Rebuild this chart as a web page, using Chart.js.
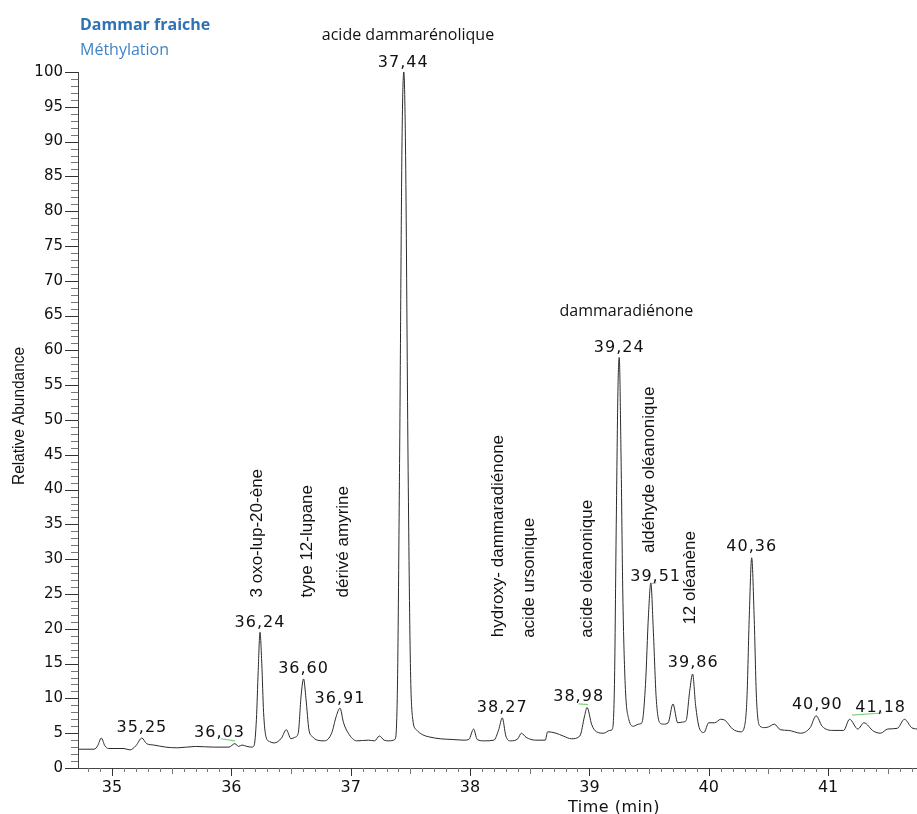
<!DOCTYPE html>
<html>
<head>
<meta charset="utf-8">
<script src="https://cdn.jsdelivr.net/npm/chart.js@4.4.0/dist/chart.umd.min.js"></script>
<style>
  html, body { margin: 0; padding: 0; background: #fff; }
  #wrap { width: 917px; height: 814px; position: relative; }
</style>
</head>
<body>
<div id="wrap"><canvas id="chrom"></canvas></div>
<script>
// chromatogram trace: retention time (min) / relative abundance (%)
const times = [
  34.72, 34.85, 34.88, 34.91, 34.94, 34.97, 35.10, 35.15, 35.20, 35.25, 35.29, 35.35, 35.45, 35.55,
  35.70, 35.85, 35.98, 36.03, 36.06, 36.09, 36.13, 36.17, 36.19, 36.21, 36.225, 36.24, 36.255, 36.27,
  36.29, 36.32, 36.36, 36.42, 36.46, 36.50, 36.53, 36.56, 36.585, 36.605, 36.625, 36.65, 36.68, 36.72,
  36.78, 36.84, 36.88, 36.91, 36.94, 36.98, 37.05, 37.15, 37.20, 37.24, 37.28, 37.32, 37.37, 37.39,
  37.41, 37.43, 37.445, 37.46, 37.48, 37.50, 37.52, 37.55, 37.60, 37.65, 37.75, 37.85, 37.95, 37.99,
  38.03, 38.06, 38.12, 38.20, 38.24, 38.27, 38.30, 38.34, 38.40, 38.43, 38.47, 38.55, 38.63, 38.65,
  38.72, 38.78, 38.85, 38.92, 38.96, 38.98, 39.02, 39.06, 39.12, 39.17, 39.19, 39.21, 39.225, 39.24,
  39.25, 39.265, 39.28, 39.30, 39.33, 39.37, 39.41, 39.44, 39.47, 39.495, 39.515, 39.535, 39.56, 39.59,
  39.62, 39.66, 39.70, 39.74, 39.78, 39.81, 39.84, 39.865, 39.89, 39.92, 39.96, 40.00, 40.05, 40.10,
  40.14, 40.20, 40.27, 40.30, 40.32, 40.34, 40.36, 40.38, 40.40, 40.43, 40.47, 40.50, 40.55, 40.60,
  40.67, 40.77, 40.85, 40.90, 40.95, 41.04, 41.13, 41.18, 41.25, 41.30, 41.38, 41.44, 41.50, 41.58,
  41.64, 41.70, 41.745
];
const abundance = [
  2.7, 2.7, 3.2, 4.3, 3.2, 2.8, 2.8, 2.6, 3.2, 4.3, 3.5, 3.3, 3.0, 2.9,
  3.1, 3.0, 3.0, 3.5, 3.1, 3.3, 3.1, 3.0, 3.2, 7, 14, 19.5, 15, 8,
  4.5, 3.8, 3.6, 4.3, 5.5, 4.2, 4.4, 5.0, 10.5, 12.8, 10, 5.5, 4.5, 4.0,
  3.9, 5.0, 7.5, 8.6, 6.5, 5.0, 3.9, 4.0, 3.9, 4.6, 4.0, 3.9, 4.1, 10,
  45, 90, 100, 88, 45, 15, 7, 5.5, 4.8, 4.5, 4.2, 4.1, 4.0, 4.1,
  5.6, 4.1, 3.9, 4.0, 5.5, 7.2, 4.6, 3.9, 4.2, 5.0, 4.4, 4.0, 4.0, 5.2,
  5.0, 4.6, 4.2, 4.6, 7.5, 8.7, 6.2, 5.2, 5.0, 5.4, 5.5, 12, 35, 55,
  59, 45, 25, 12, 7, 6.0, 6.3, 6.5, 12, 22, 26.6, 20, 10, 6.5,
  6.3, 6.5, 9.2, 6.5, 6.6, 6.8, 11, 13.5, 9, 5.8, 5.1, 6.5, 6.5, 7.0,
  6.8, 5.6, 5.2, 6.0, 10, 22, 30.2, 22, 10, 6.0, 5.8, 5.9, 6.3, 5.5,
  5.4, 5.0, 5.8, 7.5, 6.0, 5.4, 5.4, 7.0, 5.6, 6.5, 5.3, 5.0, 5.6, 5.7,
  7.0, 5.8, 5.6
];

// retention-time labels, anchored at (time, abundance) of the text centre
const peakLabels = ['35,25', '36,03', '36,24', '36,60', '36,91', '37,44', '38,27',
                    '38,98', '39,24', '39,51', '39,86', '40,36', '40,90', '41,18'];
const peakLabelTime = [35.25, 35.90, 36.24, 36.605, 36.91, 37.44, 38.27,
                       38.91, 39.25, 39.555, 39.87, 40.36, 40.91, 41.44];
const peakLabelLevel = [5.8, 5.0, 20.9, 14.2, 10.0, 101.3, 8.6,
                        10.2, 60.3, 27.5, 15.1, 31.8, 9.1, 8.6];

// green integration marks (start/end time and abundance)
const markT1 = [35.91, 38.91, 39.52, 41.20];
const markA1 = [4.2, 9.2, 26.5, 7.6];
const markT2 = [36.03, 38.99, 39.56, 41.45];
const markA2 = [3.9, 9.1, 26.6, 7.9];

// compound names: rotated ones are anchored at their bottom end
const nameText = ['acide dammarénolique', 'dammaradiénone', '3 oxo-lup-20-ène', 'type 12-lupane',
                  'dérivé amyrine', 'hydroxy- dammaradiénone', 'acide ursonique',
                  'acide oléanonique', 'aldéhyde oléanonique', '12 oléanène'];
const nameTime = [37.48, 39.31, 36.215, 36.64, 36.94, 38.24, 38.495, 38.985, 39.50, 39.845];
const nameLevel = [105.2, 65.6, 24.5, 24.5, 24.5, 18.8, 18.7, 18.7, 30.9, 20.6];
const nameVertical = [false, false, true, true, true, true, true, true, true, true];

const xTickValues = [35, 36, 37, 38, 39, 40, 41];
const yMin = 0, yMax = 100, yStep = 5;
const xMin = 34.715, xMax = 41.745;

const decorations = {
  id: 'decorations',
  afterDraw(chart) {
    const { ctx, chartArea, scales: { x, y } } = chart;
    ctx.save();

    // tick marks: y every 1, x every 0.1
    ctx.lineWidth = 1;
    for (let v = yMin; v <= yMax; v++) {
      const py = Math.round(y.getPixelForValue(v)) + 0.5;
      const major = v % yStep === 0;
      const len = major ? 13 : 7;
      ctx.strokeStyle = major ? '#333' : '#777';
      ctx.beginPath();
      ctx.moveTo(chartArea.left - len, py);
      ctx.lineTo(chartArea.left, py);
      ctx.stroke();
    }
    for (let k = Math.ceil(xMin * 10); k <= Math.floor(xMax * 10); k++) {
      const px = Math.round(x.getPixelForValue(k / 10)) + 0.5;
      const major = k % 10 === 0;
      const len = major ? 8 : (k % 5 === 0 ? 6 : 4);
      ctx.strokeStyle = major ? '#333' : '#777';
      ctx.beginPath();
      ctx.moveTo(px, chartArea.bottom);
      ctx.lineTo(px, chartArea.bottom + len);
      ctx.stroke();
    }

    // integration marks
    ctx.strokeStyle = '#7fd07f';
    ctx.lineWidth = 1.2;
    markT1.forEach((t, i) => {
      ctx.beginPath();
      ctx.moveTo(x.getPixelForValue(t), y.getPixelForValue(markA1[i]));
      ctx.lineTo(x.getPixelForValue(markT2[i]), y.getPixelForValue(markA2[i]));
      ctx.stroke();
    });

    // peak labels
    ctx.fillStyle = '#111';
    ctx.font = '16px "DejaVu Sans"';
    ctx.letterSpacing = '1px';
    ctx.textAlign = 'center';
    ctx.textBaseline = 'middle';
    peakLabels.forEach((lab, i) => {
      ctx.fillText(lab, x.getPixelForValue(peakLabelTime[i]), y.getPixelForValue(peakLabelLevel[i]));
    });
    ctx.letterSpacing = '0px';

    // compound names
    nameText.forEach((txt, i) => {
      const px = x.getPixelForValue(nameTime[i]);
      const py = y.getPixelForValue(nameLevel[i]);
      if (nameVertical[i]) {
        ctx.save();
        ctx.translate(px, py);
        ctx.rotate(-Math.PI / 2);
        ctx.font = '17px "Liberation Sans"';
        ctx.textAlign = 'left';
        ctx.textBaseline = 'middle';
        ctx.fillText(txt, 0, 0);
        ctx.restore();
      } else {
        ctx.font = '16px "Open Sans"';
        ctx.textAlign = 'center';
        ctx.textBaseline = 'middle';
        ctx.fillText(txt, px, py);
      }
    });

    // title block
    ctx.textAlign = 'left';
    ctx.textBaseline = 'alphabetic';
    ctx.fillStyle = '#2f72b4';
    ctx.font = 'bold 16px "Open Sans"';
    ctx.fillText('Dammar fraiche', 80, 30);
    ctx.fillStyle = '#3f84c6';
    ctx.font = '16px "Open Sans"';
    ctx.fillText('Méthylation', 80, 55);

    // axis titles
    ctx.fillStyle = '#111';
    ctx.font = '16px "DejaVu Sans"';
    ctx.letterSpacing = '0.5px';
    ctx.textAlign = 'center';
    ctx.fillText('Time (min)', 614, 812);
    ctx.letterSpacing = '0px';
    ctx.save();
    ctx.translate(24, 416);
    ctx.rotate(-Math.PI / 2);
    ctx.font = '17px "Liberation Sans"';
    ctx.fillText('Relative Abundance', 0, 0, 138);
    ctx.restore();

    ctx.restore();
  }
};

new Chart(document.getElementById('chrom'), {
  type: 'line',
  data: {
    datasets: [{
      data: times.map((t, i) => ({ x: t, y: abundance[i] })),
      borderColor: '#2b2b2b',
      borderWidth: 1,
      pointRadius: 0,
      cubicInterpolationMode: 'monotone',
      fill: false
    }]
  },
  options: {
    responsive: true,
    maintainAspectRatio: false,
    animation: false,
    devicePixelRatio: 1,
    layout: { padding: { top: 72, right: 0, left: 0, bottom: 0 } },
    plugins: { legend: { display: false }, tooltip: { enabled: false } },
    scales: {
      x: {
        type: 'linear',
        min: xMin,
        max: xMax,
        afterFit: s => { s.height = 46; },
        afterBuildTicks: s => { s.ticks = xTickValues.map(v => ({ value: v })); },
        border: { display: true, color: '#444', width: 1 },
        grid: { display: true, drawOnChartArea: false, color: 'transparent', tickLength: 8 },
        ticks: {
          padding: 2,
          maxRotation: 0,
          autoSkip: false,
          color: '#111',
          font: { family: 'DejaVu Sans', size: 16 },
          callback: v => String(v)
        }
      },
      y: {
        min: yMin,
        max: yMax,
        afterFit: s => { s.width = 78; },
        border: { display: true, color: '#444', width: 1 },
        grid: { display: true, drawOnChartArea: false, color: 'transparent', tickLength: 13 },
        ticks: {
          stepSize: yStep,
          padding: 2,
          color: '#111',
          font: { family: 'DejaVu Sans', size: 15 }
        }
      }
    }
  },
  plugins: [decorations]
});
</script>
</body>
</html>
